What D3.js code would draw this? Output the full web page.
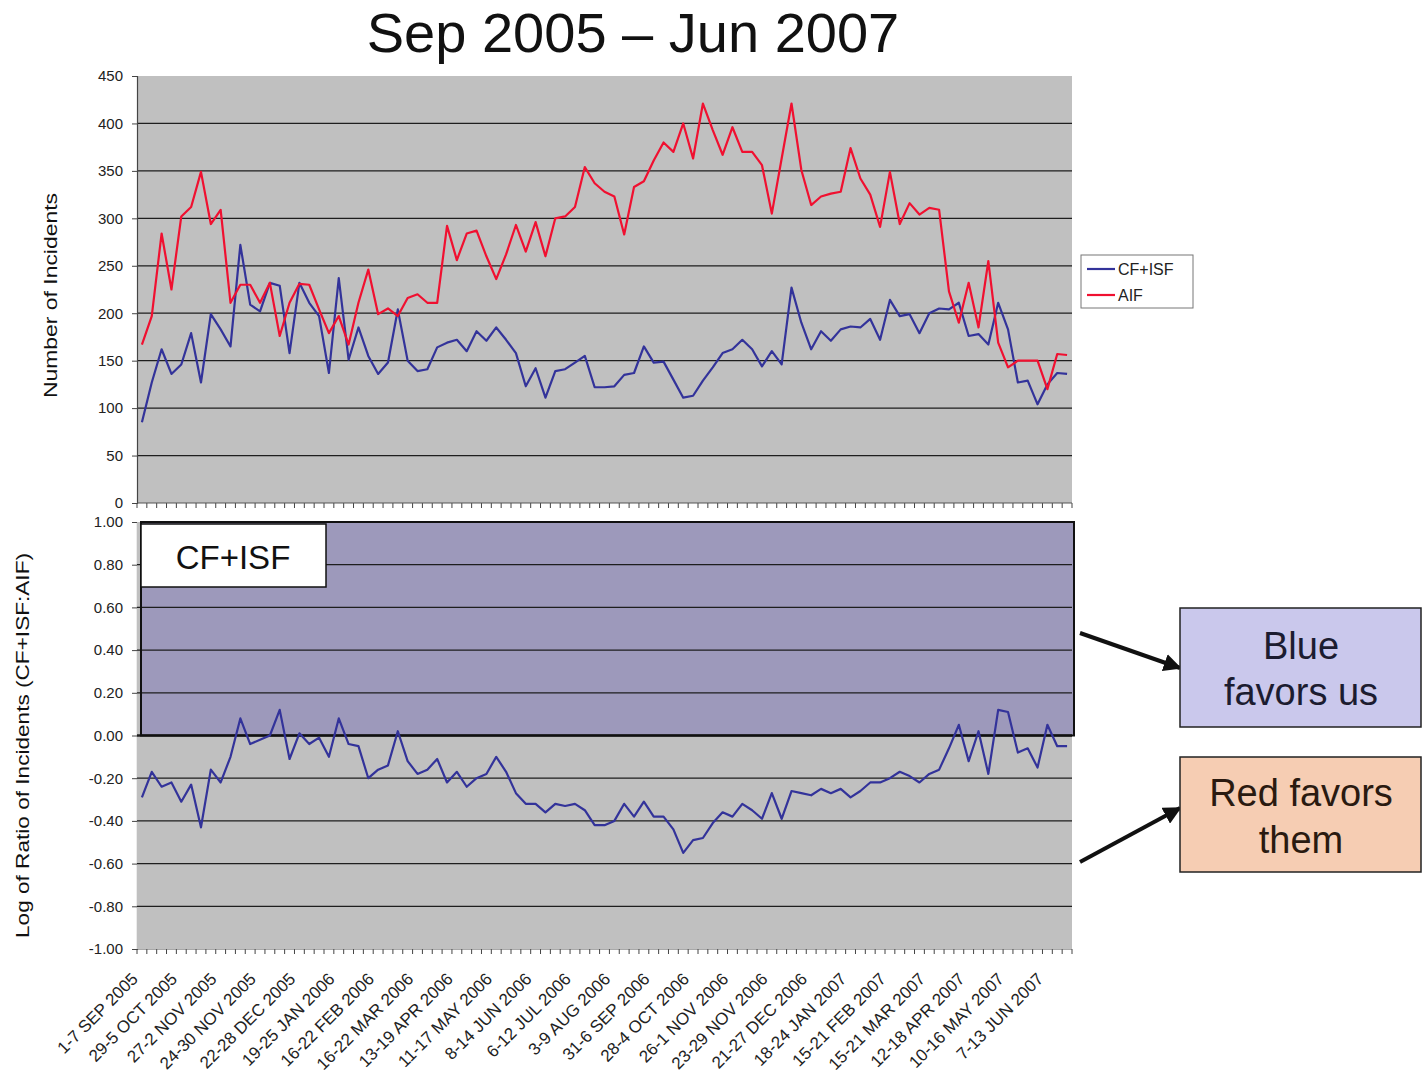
<!DOCTYPE html>
<html><head><meta charset="utf-8">
<script src="https://cdn.jsdelivr.net/npm/d3@7/dist/d3.min.js"></script>
<style>
body{margin:0;background:#fff}
svg{display:block}
text{font-family:"Liberation Sans",Arial,sans-serif}
</style>
</head><body>
<svg id="chart" width="1422" height="1088"></svg>
<script>
const titleText = "Sep 2005 \u2013 Jun 2007";
const tickLabels = ["1-7 SEP 2005","29-5 OCT 2005","27-2 NOV 2005","24-30 NOV 2005","22-28 DEC 2005",
  "19-25 JAN 2006","16-22 FEB 2006","16-22 MAR 2006","13-19 APR 2006","11-17 MAY 2006","8-14 JUN 2006",
  "6-12 JUL 2006","3-9 AUG 2006","31-6 SEP 2006","28-4 OCT 2006","26-1 NOV 2006","23-29 NOV 2006",
  "21-27 DEC 2006","18-24 JAN 2007","15-21 FEB 2007","15-21 MAR 2007","12-18 APR 2007","10-16 MAY 2007","7-13 JUN 2007"];
const labelEvery = 4;
const seriesNames = ["CF+ISF","AIF"];
const cfIsf = [85,127,162,136,146,179,127,199,183,165,272,209,202,232,229,158,232,211,197,137,
  237,151,185,155,136,148,204,150,139,141,164,169,172,160,181,171,185,172,158,123,
  142,111,139,141,148,155,122,122,123,135,137,165,148,149,130,111,113,129,143,158,
  162,172,162,144,160,146,227,190,162,181,171,183,186,185,194,172,214,197,199,179,
  200,205,204,211,176,178,167,211,183,127,129,104,125,137,136];
const aif = [167,197,284,225,302,312,349,294,309,211,230,230,211,232,176,211,231,230,204,179,
  197,167,211,246,199,205,197,216,220,211,211,292,256,284,287,260,236,262,293,265,
  296,260,300,302,312,354,337,328,323,283,333,339,361,380,370,400,363,421,393,367,
  396,370,370,356,305,363,421,351,314,323,326,328,374,342,325,291,349,294,316,304,
  311,309,223,190,232,185,255,169,143,150,150,150,120,157,156];
const logRatio = [-0.29,-0.17,-0.24,-0.22,-0.31,-0.23,-0.43,-0.16,-0.22,-0.10,0.08,-0.04,-0.02,0.00,0.12,-0.11,0.01,-0.04,-0.01,-0.10,
  0.08,-0.04,-0.05,-0.20,-0.16,-0.14,0.02,-0.12,-0.18,-0.16,-0.11,-0.22,-0.17,-0.24,-0.20,-0.18,-0.10,-0.17,-0.27,-0.32,
  -0.32,-0.36,-0.32,-0.33,-0.32,-0.35,-0.42,-0.42,-0.40,-0.32,-0.38,-0.31,-0.38,-0.38,-0.44,-0.55,-0.49,-0.48,-0.41,-0.36,
  -0.38,-0.32,-0.35,-0.39,-0.27,-0.39,-0.26,-0.27,-0.28,-0.25,-0.27,-0.25,-0.29,-0.26,-0.22,-0.22,-0.20,-0.17,-0.19,-0.22,
  -0.18,-0.16,-0.06,0.05,-0.12,0.02,-0.18,0.12,0.11,-0.08,-0.06,-0.15,0.05,-0.05,-0.05];
const countTicks = [0,50,100,150,200,250,300,350,400,450];
const ratioTicks = [-1,-0.8,-0.6,-0.4,-0.2,0,0.2,0.4,0.6,0.8,1];
const boxLabel = "CF+ISF";
const noteBlue = ["Blue","favors us"];
const noteRed = ["Red favors","them"];

const C = {blue:"#33339a", red:"#f01030", plot:"#c0c0c0", purple:"#9d99bb", grid:"#1e1e1e"};
const svg = d3.select("#chart");
const L = 137, R = 1072;
const top1 = 76, bot1 = 503, top2 = 522, bot2 = 949;

const x = d3.scaleBand().domain(d3.range(aif.length)).range([L, R]).padding(0);
const cx = i => x(i) + x.bandwidth() / 2;
const y1 = d3.scaleLinear().domain([0, 450]).range([bot1, top1]);
const y2 = d3.scaleLinear().domain([-1, 1]).range([bot2, top2]);

// title
svg.append("text").attr("x", 633).attr("y", 52).attr("text-anchor", "middle")
  .style("font-size", "56px").attr("fill", "#111").text(titleText);

// ---------- top panel ----------
svg.append("rect").attr("x", L).attr("y", top1).attr("width", R - L).attr("height", bot1 - top1).attr("fill", C.plot);
svg.append("g").selectAll("line").data(countTicks.filter(d => d > 0 && d < 450)).join("line")
  .attr("x1", L).attr("x2", R).attr("y1", d => y1(d)).attr("y2", d => y1(d))
  .attr("stroke", C.grid).attr("stroke-width", 1.3);

const yAx1 = svg.append("g").attr("transform", `translate(${L},0)`)
  .call(d3.axisLeft(y1).tickValues(countTicks).tickSize(5).tickPadding(9).tickFormat(d => d));
const yAx2 = svg.append("g").attr("transform", `translate(${L},0)`)
  .call(d3.axisLeft(y2).tickValues(ratioTicks).tickSize(5).tickPadding(9).tickFormat(d => d.toFixed(2)));
[yAx1, yAx2].forEach(g => {
  g.selectAll("text").style("font-size", "15px").attr("fill", "#222");
  g.selectAll("line").attr("stroke", "#444");
  g.select(".domain").attr("stroke", "#444").attr("stroke-width", 1.2);
});

// category tick marks
const bounds = d3.range(aif.length + 1).map(k => k < aif.length ? x(k) : R);
[bot1, bot2].forEach(yy => {
  svg.append("g").selectAll("line").data(bounds).join("line")
    .attr("x1", d => d).attr("x2", d => d).attr("y1", yy).attr("y2", yy + 5)
    .attr("stroke", "#444").attr("stroke-width", 1);
  svg.append("line").attr("x1", L).attr("x2", R).attr("y1", yy).attr("y2", yy).attr("stroke", "#555").attr("stroke-width", 1.2);
});

const line1 = d3.line().x((d, i) => cx(i)).y(d => y1(d));
svg.append("path").datum(cfIsf).attr("d", line1).attr("fill", "none").attr("stroke", C.blue).attr("stroke-width", 2.2).attr("stroke-linejoin", "round");
svg.append("path").datum(aif).attr("d", line1).attr("fill", "none").attr("stroke", C.red).attr("stroke-width", 2.2).attr("stroke-linejoin", "round");

// axis titles
svg.append("text").attr("transform", `translate(57,${(top1 + bot1) / 2 + 6}) rotate(-90)`).attr("text-anchor", "middle")
  .attr("textLength", 205).attr("lengthAdjust", "spacingAndGlyphs")
  .style("font-size", "19px").attr("fill", "#111").text("Number of Incidents");
svg.append("text").attr("transform", `translate(29,${(top2 + bot2) / 2 + 10}) rotate(-90)`).attr("text-anchor", "middle")
  .attr("textLength", 385).attr("lengthAdjust", "spacingAndGlyphs")
  .style("font-size", "19px").attr("fill", "#111").text("Log of Ratio of Incidents (CF+ISF:AIF)");

// legend
const lg = svg.append("g").attr("transform", "translate(1081,255)");
lg.append("rect").attr("width", 112).attr("height", 53).attr("fill", "#fff").attr("stroke", "#777").attr("stroke-width", 1);
[[cfIsf, C.blue, seriesNames[0]], [aif, C.red, seriesNames[1]]].forEach((s, k) => {
  const yy = 14 + k * 26;
  lg.append("line").attr("x1", 6).attr("x2", 34).attr("y1", yy).attr("y2", yy).attr("stroke", s[1]).attr("stroke-width", 2.2);
  lg.append("text").attr("x", 37).attr("y", yy + 5.5).style("font-size", "16px").attr("fill", "#222").text(s[2]);
});

// ---------- bottom panel ----------
svg.append("rect").attr("x", L).attr("y", top2).attr("width", R - L).attr("height", bot2 - top2).attr("fill", C.plot);
svg.append("rect").attr("x", L + 4).attr("y", top2).attr("width", R + 2 - L - 4).attr("height", y2(0) - top2).attr("fill", C.purple);
svg.append("g").selectAll("line").data(ratioTicks.filter(d => d > -1 && d < 1)).join("line")
  .attr("x1", L).attr("x2", R).attr("y1", d => y2(d)).attr("y2", d => y2(d))
  .attr("stroke", C.grid).attr("stroke-width", d => d === 0 ? 2.6 : 1.3);
svg.append("rect").attr("x", L + 4).attr("y", top2).attr("width", R + 2 - L - 4).attr("height", y2(0) - top2)
  .attr("fill", "none").attr("stroke", "#111").attr("stroke-width", 2);
svg.append("path").datum(logRatio).attr("d", d3.line().x((d, i) => cx(i)).y(d => y2(d)))
  .attr("fill", "none").attr("stroke", C.blue).attr("stroke-width", 2.2).attr("stroke-linejoin", "round");

// CF+ISF label box
svg.append("rect").attr("x", L + 4).attr("y", top2 + 2).attr("width", 185).attr("height", 63)
  .attr("fill", "#fff").attr("stroke", "#111").attr("stroke-width", 1.5);
svg.append("text").attr("x", L + 4 + 92).attr("y", top2 + 47).attr("text-anchor", "middle")
  .style("font-size", "33px").attr("fill", "#111").text(boxLabel);

// x labels
svg.append("g").selectAll("text").data(tickLabels).join("text")
  .attr("transform", (d, k) => `translate(${cx(k * labelEvery) - 3},${bot2 + 31}) rotate(-45)`)
  .attr("text-anchor", "end").style("font-size", "17px").attr("fill", "#222").text(d => d);

// annotations
const defs = svg.append("defs");
defs.append("marker").attr("id", "ah").attr("viewBox", "0 0 10 10").attr("refX", 9).attr("refY", 5)
  .attr("markerWidth", 4.5).attr("markerHeight", 4.5).attr("orient", "auto")
  .append("path").attr("d", "M0,0L10,5L0,10z").attr("fill", "#111");
svg.append("line").attr("x1", 1080).attr("y1", 633).attr("x2", 1180).attr("y2", 668)
  .attr("stroke", "#111").attr("stroke-width", 4).attr("marker-end", "url(#ah)");
svg.append("line").attr("x1", 1080).attr("y1", 862).attr("x2", 1180).attr("y2", 808)
  .attr("stroke", "#111").attr("stroke-width", 4).attr("marker-end", "url(#ah)");

svg.append("rect").attr("x", 1180).attr("y", 608).attr("width", 241).attr("height", 119)
  .attr("fill", "#cac8ec").attr("stroke", "#222").attr("stroke-width", 1.5);
svg.append("rect").attr("x", 1180).attr("y", 757).attr("width", 241).attr("height", 115)
  .attr("fill", "#f6cdb3").attr("stroke", "#222").attr("stroke-width", 1.5);
noteBlue.forEach((t, k) => svg.append("text").attr("x", 1301).attr("y", 659 + k * 46).attr("text-anchor", "middle")
  .style("font-size", "38px").attr("fill", "#1c1c30").text(t));
noteRed.forEach((t, k) => svg.append("text").attr("x", 1301).attr("y", 806 + k * 47).attr("text-anchor", "middle")
  .style("font-size", "38px").attr("fill", "#2a1a10").text(t));
</script>
</body></html>
